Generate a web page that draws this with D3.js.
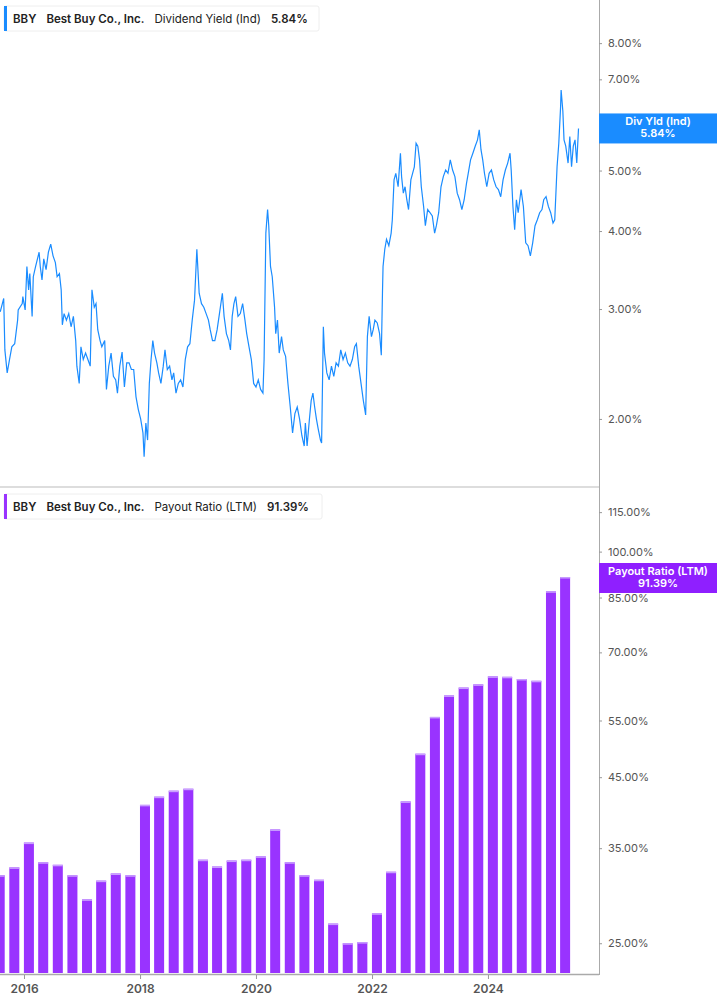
<!DOCTYPE html>
<html><head><meta charset="utf-8">
<script src="https://cdn.jsdelivr.net/npm/d3@7"></script>
<style>body{margin:0;background:#fff;font-family:Inter,"Open Sans",sans-serif}</style>
</head><body><svg id="c" width="717" height="1005"></svg>
<script>
// Dividend yield (decimal year, %)
const yieldT = [2015.59,2015.65,2015.67,2015.71,2015.75,2015.79,2015.84,2015.89,2015.90,2015.97,2015.98,2016.02,2016.05,2016.08,2016.10,2016.14,2016.16,2016.20,2016.26,2016.28,2016.31,2016.34,2016.38,2016.42,2016.46,2016.50,2016.54,2016.57,2016.61,2016.64,2016.66,2016.69,2016.73,2016.77,2016.81,2016.85,2016.89,2016.91,2016.95,2016.98,2017.02,2017.06,2017.10,2017.14,2017.17,2017.21,2017.24,2017.27,2017.31,2017.34,2017.39,2017.42,2017.46,2017.50,2017.54,2017.58,2017.61,2017.65,2017.69,2017.73,2017.77,2017.81,2017.85,2017.89,2017.93,2017.97,2018.01,2018.05,2018.07,2018.10,2018.13,2018.16,2018.19,2018.22,2018.25,2018.29,2018.32,2018.36,2018.40,2018.43,2018.47,2018.51,2018.55,2018.58,2018.62,2018.66,2018.70,2018.74,2018.78,2018.82,2018.86,2018.90,2018.94,2018.98,2019.02,2019.06,2019.10,2019.14,2019.18,2019.21,2019.25,2019.29,2019.33,2019.37,2019.42,2019.45,2019.49,2019.53,2019.56,2019.59,2019.62,2019.65,2019.69,2019.73,2019.77,2019.81,2019.84,2019.88,2019.92,2019.96,2020.00,2020.04,2020.08,2020.12,2020.14,2020.17,2020.20,2020.22,2020.25,2020.28,2020.32,2020.34,2020.37,2020.40,2020.44,2020.47,2020.51,2020.55,2020.59,2020.63,2020.67,2020.71,2020.75,2020.79,2020.83,2020.85,2020.88,2020.92,2020.95,2020.98,2021.01,2021.04,2021.07,2021.11,2021.13,2021.16,2021.18,2021.22,2021.26,2021.30,2021.34,2021.38,2021.42,2021.46,2021.50,2021.54,2021.58,2021.62,2021.66,2021.70,2021.73,2021.77,2021.81,2021.85,2021.89,2021.92,2021.95,2021.99,2022.02,2022.05,2022.09,2022.13,2022.16,2022.18,2022.19,2022.22,2022.25,2022.29,2022.33,2022.35,2022.38,2022.41,2022.45,2022.49,2022.51,2022.54,2022.57,2022.60,2022.63,2022.67,2022.70,2022.73,2022.76,2022.79,2022.82,2022.85,2022.89,2022.92,2022.96,2023.00,2023.04,2023.08,2023.11,2023.15,2023.19,2023.23,2023.27,2023.31,2023.35,2023.39,2023.43,2023.47,2023.51,2023.55,2023.59,2023.63,2023.66,2023.70,2023.74,2023.78,2023.82,2023.85,2023.88,2023.91,2023.94,2023.98,2024.02,2024.06,2024.10,2024.14,2024.18,2024.22,2024.26,2024.30,2024.34,2024.38,2024.40,2024.43,2024.46,2024.49,2024.52,2024.57,2024.61,2024.65,2024.69,2024.73,2024.77,2024.81,2024.85,2024.89,2024.93,2024.96,2025.00,2025.04,2025.08,2025.12,2025.15,2025.19,2025.22,2025.25,2025.26,2025.29,2025.31,2025.34,2025.38,2025.41,2025.44,2025.47,2025.50,2025.53,2025.56];
const yieldV = [2.97,3.12,2.58,2.37,2.49,2.61,2.64,2.88,2.99,3.06,3.14,2.99,3.51,3.22,3.42,2.92,3.38,3.51,3.70,3.51,3.34,3.61,3.47,3.70,3.81,3.65,3.56,3.38,3.42,3.22,2.83,2.95,2.88,2.95,2.81,2.92,2.67,2.43,2.28,2.61,2.49,2.55,2.49,2.43,3.22,3.02,3.06,2.78,2.67,2.61,2.67,2.23,2.43,2.55,2.34,2.31,2.20,2.43,2.56,2.25,2.46,2.46,2.40,2.40,2.17,2.07,2.00,1.90,1.74,1.97,1.85,2.28,2.49,2.67,2.55,2.46,2.37,2.28,2.43,2.58,2.40,2.43,2.31,2.37,2.20,2.28,2.31,2.25,2.49,2.61,2.64,2.88,3.10,3.74,3.18,3.06,3.02,2.95,2.88,2.78,2.67,2.67,2.78,2.95,3.18,2.92,2.74,2.67,2.58,2.92,3.06,3.14,2.92,2.95,3.06,2.88,2.74,2.61,2.49,2.28,2.25,2.31,2.23,2.20,2.49,3.97,4.33,4.08,3.51,3.38,3.02,2.74,2.88,2.55,2.71,2.58,2.52,2.28,2.09,1.90,2.04,2.09,2.00,1.88,1.81,1.97,1.81,2.00,2.14,2.20,2.09,2.00,1.93,1.85,1.83,2.81,2.55,2.37,2.31,2.43,2.34,2.46,2.43,2.58,2.49,2.55,2.46,2.43,2.49,2.61,2.64,2.43,2.28,2.14,2.03,2.71,2.92,2.71,2.78,2.88,2.85,2.74,2.53,3.18,3.51,3.74,3.88,3.79,3.97,4.17,4.83,4.95,4.71,5.33,4.89,4.60,4.71,4.49,4.33,4.83,4.95,5.07,5.53,5.47,5.20,4.71,4.38,4.08,4.33,4.28,4.23,3.97,4.08,4.28,4.71,4.89,5.01,4.95,5.20,5.01,4.89,4.60,4.49,4.33,4.49,4.77,4.95,5.20,5.33,5.47,5.60,5.81,5.40,5.20,4.95,4.71,4.95,5.01,4.83,4.71,4.66,4.54,4.83,5.01,5.14,5.33,5.01,4.38,4.02,4.49,4.28,4.66,4.38,3.83,3.79,3.65,3.83,4.08,4.17,4.28,4.33,4.49,4.54,4.38,4.28,4.12,4.17,5.07,5.53,6.30,6.73,6.22,5.60,5.47,5.14,5.67,5.07,5.47,5.60,5.14,5.84];
// Payout ratio, quarterly (first quarter end Aug 2015)
const payoutStart = "2015-08-01";
const payoutV = [31.8,32.7,35.7,33.3,33.0,31.8,29.2,31.2,32.0,31.8,40.8,42.0,42.9,43.2,33.6,32.8,33.5,33.6,34.0,37.4,33.3,31.8,31.3,26.8,25.0,25.1,27.8,32.2,41.3,48.9,55.7,60.1,61.8,62.5,64.3,64.2,63.7,63.3,86.9,91.39];
const yieldTicks = [2,3,4,5,7,8];
const payoutTicks = [25,35,45,55,70,85,100,115];
const yearTicks = [2016,2018,2020,2022,2024];

const svg = d3.select("#c");
const W = 599;
const toDate = t => { const y = Math.floor(t); const s = new Date(y,0,1), e = new Date(y+1,0,1); return new Date(+s + (t-y)*(e-s)); };
const x = d3.scaleTime().domain([toDate(2015.586), toDate(2015.586 + W/58)]).range([0, W]);
const y1 = d3.scaleLog().domain([1.556, 9.38]).range([487, 0]);
const y2 = d3.scaleLog().domain([22.5, 125.7]).range([973, 487]);
const blue = "#1a8cff", purple = "#9933ff";

const pts = yieldT.map((t,i)=>[toDate(t), yieldV[i]]);
svg.append("path").attr("d", d3.line().x(d=>x(d[0])).y(d=>y1(d[1]))(pts))
  .attr("fill","none").attr("stroke",blue).attr("stroke-width",1.2);

const start = new Date(payoutStart);
const bars = payoutV.map((v,i)=>({d:d3.timeMonth.offset(start,3*i), v}));
const bw = 10;
svg.append("g").selectAll("rect").data(bars).join("rect")
  .attr("x", d=>x(d.d)-bw/2).attr("width", bw)
  .attr("y", d=>y2(d.v)).attr("height", d=>973-y2(d.v)).attr("fill", purple);
svg.append("g").selectAll("rect").data(bars).join("rect")
  .attr("x", d=>x(d.d)-bw/2).attr("width", bw)
  .attr("y", d=>y2(d.v)).attr("height", 1.5).attr("fill", "#c9a0ff");

svg.append("rect").attr("x",0).attr("y",486).attr("width",W).attr("height",2).attr("fill","#ddd");
svg.append("line").attr("x1",W+0.5).attr("x2",W+0.5).attr("y1",0).attr("y2",975).attr("stroke","#aaa");
svg.append("line").attr("x1",0).attr("x2",W).attr("y1",974.5).attr("y2",974.5).attr("stroke","#aaa").attr("stroke-width",1.5);

function yAxis(scale, ticks) {
  const g = svg.append("g").attr("transform",`translate(${W},0)`)
    .call(d3.axisRight(scale).tickValues(ticks).tickSize(3).tickPadding(6).tickFormat(d=>d.toFixed(2)+"%"));
  g.select(".domain").remove();
  g.selectAll("line").attr("stroke","#999");
  g.selectAll("text").attr("fill","#555").style("font-size","11px").style("font-family","Inter,sans-serif");
}
yAxis(y1, yieldTicks);
yAxis(y2, payoutTicks);

const xa = svg.append("g").attr("transform","translate(0,975)")
  .call(d3.axisBottom(x).tickValues(yearTicks.map(y=>new Date(y,0,1))).tickSize(4).tickPadding(5).tickFormat(d3.timeFormat("%Y")));
xa.select(".domain").remove();
xa.selectAll("line").attr("stroke","#999");
xa.selectAll("text").attr("fill","#555").style("font-size","12px").style("font-weight","600").style("font-family","Inter,sans-serif");

function legend(y, color, parts, w) {
  const g = svg.append("g").attr("transform",`translate(4,${y})`);
  g.append("rect").attr("width",w).attr("height",25).attr("rx",2).attr("fill","#fff").attr("stroke","#eee");
  g.append("rect").attr("width",3).attr("height",25).attr("fill",color);
  const t = g.append("text").attr("x",9).attr("y",17).style("font-size","11.5px").attr("fill","#222").style("font-family","Inter,sans-serif");
  parts.forEach(([s,wt,dx])=>t.append("tspan").attr("dx",dx).style("font-weight",wt).text(s));
}
legend(6, blue, [["BBY","600",0],["Best Buy Co., Inc.","600",10],["Dividend Yield (Ind)","400",10],["5.84%","600",10]], 315);
legend(494, purple, [["BBY","600",0],["Best Buy Co., Inc.","600",10],["Payout Ratio (LTM)","400",10],["91.39%","600",10]], 318);

function badge(yc, color, l1, l2) {
  svg.append("rect").attr("x",W).attr("y",yc-15).attr("width",118).attr("height",30).attr("fill",color);
  svg.append("text").attr("x",658).attr("y",yc-3).attr("text-anchor","middle").attr("fill","#fff").style("font-size","11px").style("font-weight","600").text(l1);
  svg.append("text").attr("x",658).attr("y",yc+9).attr("text-anchor","middle").attr("fill","#fff").style("font-size","11px").style("font-weight","600").text(l2);
}
badge(y1(5.84), blue, "Div Yld (Ind)", "5.84%");
badge(578, "#8f1fff", "Payout Ratio (LTM)", "91.39%");
</script></body></html>
